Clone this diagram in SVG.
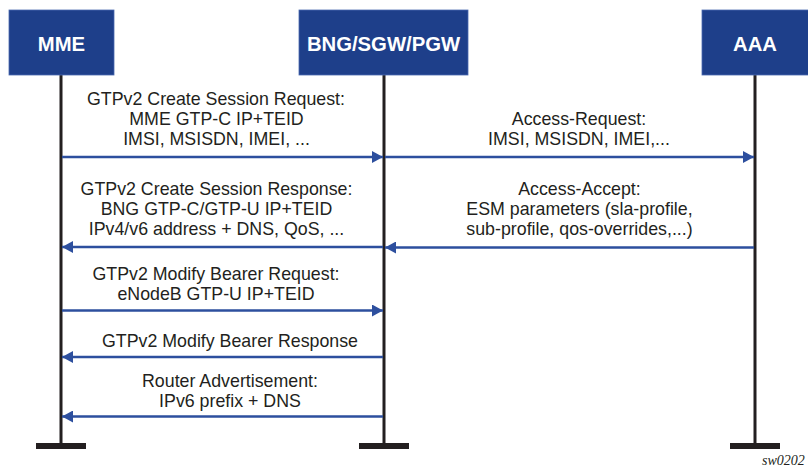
<svg xmlns="http://www.w3.org/2000/svg" width="808" height="467" viewBox="0 0 808 467">
<style>
.box{fill:#1e3f8a;stroke:#4a6ab0;stroke-width:0.8}
.hdr{font-family:"Liberation Sans",Arial,sans-serif;font-weight:bold;font-size:20.3px;fill:#ffffff;text-anchor:middle}
.life{stroke:#231f20;stroke-width:3;fill:none}
.bar{fill:#231f20}
.msg{stroke:#2d4f9e;stroke-width:2.6;fill:none}
.lbl{font-family:"Liberation Sans",Arial,sans-serif;font-size:17.8px;fill:#231f20;text-anchor:middle}
.ref{font-family:"Liberation Serif","Times New Roman",serif;font-style:italic;font-size:14px;fill:#231f20}
</style>
<defs>
<marker id="ah" viewBox="0 0 11 12" refX="11" refY="6" markerWidth="11" markerHeight="12" markerUnits="userSpaceOnUse" orient="auto">
<path d="M0,0 L11,6 L0,12 Z" fill="#2d4f9e"/>
</marker>
</defs>
<rect width="808" height="467" fill="#ffffff"/>
<g id="lifelines">
<line class="life" x1="61" y1="75" x2="61" y2="445"/>
<line class="life" x1="384" y1="75" x2="384" y2="445"/>
<line class="life" x1="755" y1="75" x2="755" y2="445"/>
<rect class="bar" x="36" y="443" width="50" height="6"/>
<rect class="bar" x="359" y="443" width="50" height="6"/>
<rect class="bar" x="730" y="443" width="50" height="6"/>
</g>
<g id="node-mme">
<rect class="box" x="9" y="10" width="105" height="65"/>
<text class="hdr" x="61.5" y="51">MME</text>
</g>
<g id="node-bng">
<rect class="box" x="299" y="10" width="169" height="65"/>
<text class="hdr" x="383.5" y="51">BNG/SGW/PGW</text>
</g>
<g id="node-aaa">
<rect class="box" x="702" y="10" width="107" height="65"/>
<text class="hdr" x="755" y="51">AAA</text>
</g>
<g id="connectors">
<line class="msg" x1="62" y1="157" x2="383" y2="157" marker-end="url(#ah)"/>
<line class="msg" x1="385" y1="157" x2="754" y2="157" marker-end="url(#ah)"/>
<line class="msg" x1="383" y1="247" x2="62" y2="247" marker-end="url(#ah)"/>
<line class="msg" x1="754" y1="247.5" x2="385" y2="247.5" marker-end="url(#ah)"/>
<line class="msg" x1="62" y1="310.5" x2="383" y2="310.5" marker-end="url(#ah)"/>
<line class="msg" x1="383" y1="357" x2="62" y2="357" marker-end="url(#ah)"/>
<line class="msg" x1="383" y1="416.5" x2="62" y2="416.5" marker-end="url(#ah)"/>
</g>
<g id="labels">
<text class="lbl" x="216" y="105">GTPv2 Create Session Request:</text>
<text class="lbl" x="216.5" y="125">MME GTP-C IP+TEID</text>
<text class="lbl" x="216.5" y="145">IMSI, MSISDN, IMEI, ...</text>
<text class="lbl" x="579" y="125">Access-Request:</text>
<text class="lbl" x="579" y="145">IMSI, MSISDN, IMEI,...</text>
<text class="lbl" x="216.5" y="195">GTPv2 Create Session Response:</text>
<text class="lbl" x="216.5" y="215">BNG GTP-C/GTP-U IP+TEID</text>
<text class="lbl" x="216.5" y="235">IPv4/v6 address + DNS, QoS, ...</text>
<text class="lbl" x="579.5" y="195">Access-Accept:</text>
<text class="lbl" x="579.5" y="215">ESM parameters (sla-profile,</text>
<text class="lbl" x="579.5" y="235">sub-profile, qos-overrides,...)</text>
<text class="lbl" x="216" y="280">GTPv2 Modify Bearer Request:</text>
<text class="lbl" x="216" y="300">eNodeB GTP-U IP+TEID</text>
<text class="lbl" x="230" y="347">GTPv2 Modify Bearer Response</text>
<text class="lbl" x="230" y="387">Router Advertisement:</text>
<text class="lbl" x="230" y="407">IPv6 prefix + DNS</text>
<text class="ref" x="762" y="465">sw0202</text>
</g>
</svg>
